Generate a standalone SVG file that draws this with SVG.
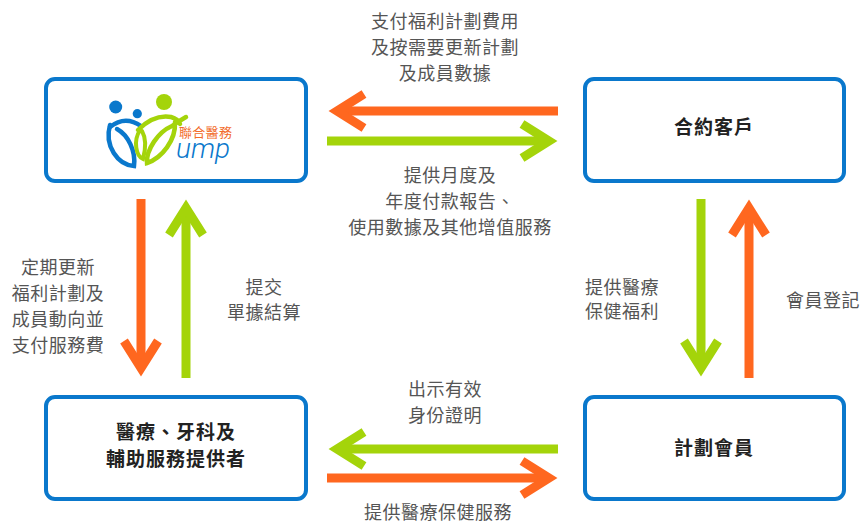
<svg xmlns="http://www.w3.org/2000/svg" width="861" height="524" viewBox="0 0 861 524">
<style>
.box{fill:#fff;stroke:#0A78CC;stroke-width:4}
.lbl{font-family:"Noto Sans CJK TC","Noto Sans CJK SC",sans-serif;font-size:18px;fill:#555;text-anchor:middle;letter-spacing:0.5px}
.ttl{font-family:"Noto Sans CJK TC","Noto Sans CJK SC",sans-serif;font-size:19px;font-weight:700;fill:#222;text-anchor:middle;letter-spacing:1px}
.logo-cn{font-family:"Noto Sans CJK TC","Noto Sans CJK SC",sans-serif;font-size:13px;fill:#F26B2A;letter-spacing:0.3px}
.logo-en{font-family:Roboto,"Liberation Sans",sans-serif;font-size:28px;font-style:italic;font-weight:300;fill:#0A78CC}
.or{stroke:#FF671F}
.gr{stroke:#A4D40A}
.sh{fill:none;stroke-width:9;stroke-linecap:butt}
.hd{fill:none;stroke-width:9;stroke-linecap:butt;stroke-linejoin:miter;stroke-miterlimit:10}
</style>
<rect width="861" height="524" fill="#fff"/>

<g id="node-ump">
<rect class="box" x="46" y="79" width="260" height="102" rx="9"/>
<g id="ump-logo" fill="none" stroke-linecap="round">
<circle cx="115.7" cy="107" r="6.5" fill="#0A78CC" stroke="none"/>
<circle cx="137.3" cy="113.7" r="4.6" fill="#0A78CC" stroke="none"/>
<path d="M110 127 Q125 115 141 126" stroke="#0A78CC" stroke-width="4.5"/>
<path d="M110 125 C104 146 118 165 134 166 C136 151 128 135 117 129" stroke="#0A78CC" stroke-width="4.5"/>
<circle cx="164" cy="102" r="8" fill="#A4D40A" stroke="none"/>
<path d="M138 130 Q154 114 171 117 Q178 119 180 124" stroke="#A4D40A" stroke-width="4.5"/>
<path d="M175 122 C176 140 162 158 147 163 C146 150 158 132 172 126 Q179 121 186 117" stroke="#A4D40A" stroke-width="4.5"/>
<path d="M140 130 C133 141 136 156 143 159 C146 148 146 138 142 131" stroke="#A4D40A" stroke-width="4"/>
<text class="logo-cn" x="179" y="137">聯合醫務</text>
<text class="logo-en" x="176" y="158">ump</text>
</g>
</g>

<g id="node-client">
<rect class="box" x="585" y="79" width="259" height="102" rx="9"/>
<text class="ttl" x="714" y="134">合約客戶</text>
</g>

<g id="node-provider">
<rect class="box" x="46" y="397" width="260" height="102" rx="9"/>
<text class="ttl" x="176" y="439">醫療、牙科及</text>
<text class="ttl" x="176" y="466">輔助服務提供者</text>
</g>

<g id="node-member">
<rect class="box" x="585" y="397" width="259" height="102" rx="9"/>
<text class="ttl" x="714" y="455">計劃會員</text>
</g>

<g id="connectors">
<g class="or"><path class="sh" d="M337 111H558"/><polyline class="hd" points="364,94 337,111 364,128"/></g>
<g class="gr"><path class="sh" d="M327 141H549"/><polyline class="hd" points="522,124 549,141 522,158"/></g>
<g class="gr"><path class="sh" d="M337 449H558"/><polyline class="hd" points="364,432 337,449 364,466"/></g>
<g class="or"><path class="sh" d="M327 478H549"/><polyline class="hd" points="522,461 549,478 522,495"/></g>
<g class="or"><path class="sh" d="M141 199V368"/><polyline class="hd" points="124,341 141,368 158,341"/></g>
<g class="gr"><path class="sh" d="M186 378V208"/><polyline class="hd" points="169,235 186,208 203,235"/></g>
<g class="gr"><path class="sh" d="M701 199V368"/><polyline class="hd" points="684,341 701,368 718,341"/></g>
<g class="or"><path class="sh" d="M749 378V208"/><polyline class="hd" points="732,235 749,208 766,235"/></g>
</g>

<g id="labels">
<text class="lbl" x="445" y="28">支付福利計劃費用</text>
<text class="lbl" x="445" y="54">及按需要更新計劃</text>
<text class="lbl" x="445" y="80">及成員數據</text>

<text class="lbl" x="450" y="182">提供月度及</text>
<text class="lbl" x="450" y="208">年度付款報告、</text>
<text class="lbl" x="450" y="234">使用數據及其他增值服務</text>

<text class="lbl" x="58" y="274">定期更新</text>
<text class="lbl" x="58" y="300">福利計劃及</text>
<text class="lbl" x="58" y="326">成員動向並</text>
<text class="lbl" x="58" y="352">支付服務費</text>

<text class="lbl" x="264" y="294">提交</text>
<text class="lbl" x="264" y="319">單據結算</text>

<text class="lbl" x="622" y="294">提供醫療</text>
<text class="lbl" x="622" y="318">保健福利</text>

<text class="lbl" x="823" y="307">會員登記</text>

<text class="lbl" x="445" y="396">出示有效</text>
<text class="lbl" x="445" y="422">身份證明</text>

<text class="lbl" x="438" y="519">提供醫療保健服務</text>
</g>
</svg>
